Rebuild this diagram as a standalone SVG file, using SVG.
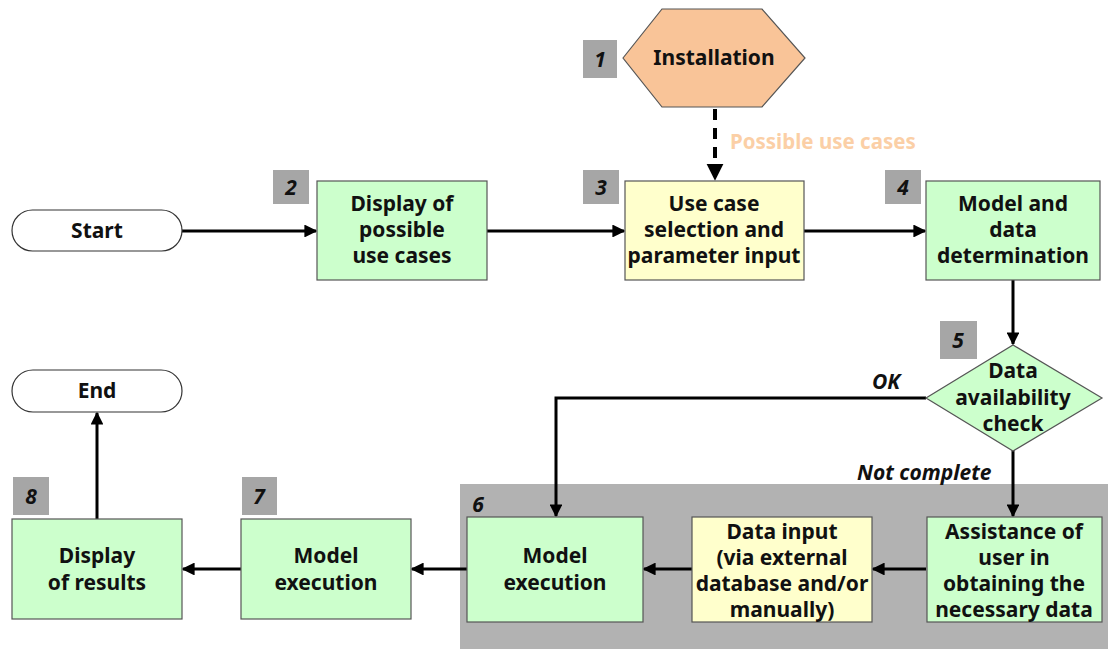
<svg xmlns="http://www.w3.org/2000/svg" width="1108" height="649" viewBox="0 0 1108 649">
  <style>
    text { font-family: "Noto Sans", "Open Sans", "Liberation Sans", sans-serif; font-weight: bold; fill: #111; }
    .t { font-size: 21px; text-anchor: middle; }
    .num { font-size: 21px; font-style: italic; text-anchor: middle; }
    .lbl { font-size: 21px; font-style: italic; }
    .green { fill: #ccffcc; stroke: #555; stroke-width: 1.2; }
    .yellow { fill: #ffffcc; stroke: #555; stroke-width: 1.2; }
    .tag { fill: #a6a6a6; }
    .term { fill: #fff; stroke: #333; stroke-width: 1.2; }
    .conn { fill: none; stroke: #000; stroke-width: 3; marker-end: url(#arrow); }
    .dash { fill: none; stroke: #000; stroke-width: 4; stroke-dasharray: 11 8; marker-end: url(#arrow); }
  </style>
  <defs>
    <marker id="arrow" viewBox="0 0 10 10" refX="9" refY="5" markerWidth="4.3" markerHeight="4.3" orient="auto" markerUnits="strokeWidth">
      <path d="M0,0 L10,5 L0,10 z" fill="#000"/>
    </marker>
  </defs>
  <rect width="1108" height="649" fill="#fff"/>

  <!-- grey panel grouping step 6 -->
  <g id="panel6">
    <rect x="460" y="484" width="648" height="165" fill="#b2b2b2"/>
    <text class="num" x="478" y="512">6</text>
  </g>

  <g id="connectors">
    <path class="conn" d="M182,231 H316"/>
    <path class="conn" d="M487,231 H624"/>
    <path class="conn" d="M804,231 H925"/>
    <path class="dash" d="M715,109 V179"/>
    <path class="conn" d="M1013,280 V344"/>
    <path class="conn" d="M926,398 H556 V516"/>
    <path class="conn" d="M1013,450 V516"/>
    <path class="conn" d="M926,569 H873"/>
    <path class="conn" d="M692,569 H644"/>
    <path class="conn" d="M467,569 H412"/>
    <path class="conn" d="M241,569 H183"/>
    <path class="conn" d="M97,519 V413"/>
    <text class="lbl" x="872" y="389">OK</text>
    <text class="lbl" x="857" y="480">Not complete</text>
    <text x="730" y="149" font-size="20.5" style="fill:#fbcfa6">Possible use cases</text>
  </g>

  <g id="n1">
    <polygon points="623,58 662,9 762,9 805,58 762,107 662,107" fill="#f9c498" stroke="#555" stroke-width="1.2"/>
    <text class="t" x="714" y="65">Installation</text>
    <rect class="tag" x="583" y="40" width="34" height="38"/>
    <text class="num" x="600" y="67">1</text>
  </g>

  <g id="start">
    <rect class="term" x="12" y="210" width="170" height="41" rx="20.5"/>
    <text class="t" x="97" y="238">Start</text>
  </g>

  <g id="n2">
    <rect class="tag" x="273" y="170" width="36" height="34"/>
    <text class="num" x="291" y="195">2</text>
    <rect class="green" x="317" y="181" width="170" height="99"/>
    <text class="t" x="402" y="211">Display of</text>
    <text class="t" x="402" y="237">possible</text>
    <text class="t" x="402" y="263">use cases</text>
  </g>

  <g id="n3">
    <rect class="tag" x="583" y="170" width="36" height="34"/>
    <text class="num" x="601" y="195">3</text>
    <rect class="yellow" x="625" y="181" width="179" height="99"/>
    <text class="t" x="714" y="211">Use case</text>
    <text class="t" x="714" y="237">selection and</text>
    <text class="t" x="714" y="263">parameter input</text>
  </g>

  <g id="n4">
    <rect class="tag" x="885" y="170" width="36" height="34"/>
    <text class="num" x="903" y="195">4</text>
    <rect class="green" x="926" y="181" width="174" height="99"/>
    <text class="t" x="1013" y="211">Model and</text>
    <text class="t" x="1013" y="237">data</text>
    <text class="t" x="1013" y="263">determination</text>
  </g>

  <g id="n5">
    <rect class="tag" x="940" y="321" width="37" height="38"/>
    <text class="num" x="958" y="348">5</text>
    <polygon class="green" points="1013,345 1102,398 1013,451 926,398"/>
    <text class="t" x="1013" y="378">Data</text>
    <text class="t" x="1013" y="405">availability</text>
    <text class="t" x="1013" y="431">check</text>
  </g>

  <g id="n6a">
    <rect class="green" x="927" y="517" width="175" height="105"/>
    <text class="t" x="1014" y="539">Assistance of</text>
    <text class="t" x="1014" y="565">user in</text>
    <text class="t" x="1014" y="591">obtaining the</text>
    <text class="t" x="1014" y="617">necessary data</text>
  </g>

  <g id="n6b">
    <rect class="yellow" x="692" y="517" width="180" height="105"/>
    <text class="t" x="782" y="539">Data input</text>
    <text class="t" x="782" y="565">(via external</text>
    <text class="t" x="782" y="591">database and/or</text>
    <text class="t" x="782" y="617">manually)</text>
  </g>

  <g id="n6c">
    <rect class="green" x="467" y="517" width="176" height="105"/>
    <text class="t" x="555" y="563">Model</text>
    <text class="t" x="555" y="590">execution</text>
  </g>

  <g id="n7">
    <rect class="tag" x="242" y="477" width="35" height="38"/>
    <text class="num" x="259" y="504">7</text>
    <rect class="green" x="241" y="519" width="170" height="100"/>
    <text class="t" x="326" y="563">Model</text>
    <text class="t" x="326" y="590">execution</text>
  </g>

  <g id="n8">
    <rect class="tag" x="13" y="477" width="36" height="38"/>
    <text class="num" x="31" y="504">8</text>
    <rect class="green" x="12" y="519" width="170" height="100"/>
    <text class="t" x="97" y="563">Display</text>
    <text class="t" x="97" y="590">of results</text>
  </g>

  <g id="end">
    <rect class="term" x="12" y="370" width="170" height="42" rx="21"/>
    <text class="t" x="97" y="398">End</text>
  </g>
</svg>
